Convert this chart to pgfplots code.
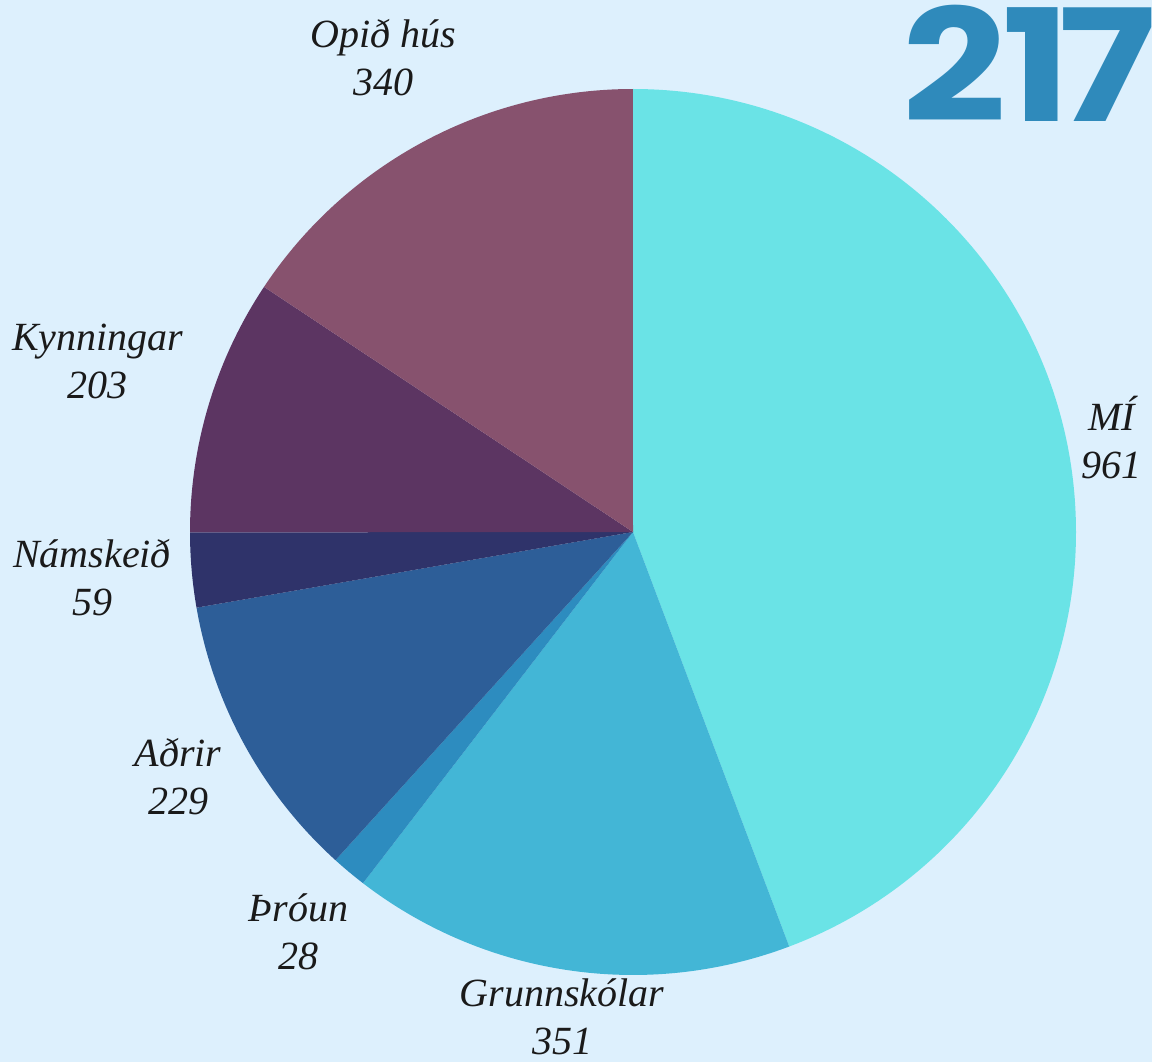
\documentclass[border=0pt]{standalone}
\usepackage{pgfplots}
\pgfplotsset{compat=1.18}
\usepackage{fontspec}
\setmainfont{Liberation Serif}
\newfontfamily\bignum{Poppins}[UprightFont=* Bold]
\definecolor{bg}{HTML}{DDF0FD}
\definecolor{cMI}{HTML}{6AE3E6}
\definecolor{cGr}{HTML}{43B6D6}
\definecolor{cTh}{HTML}{2D8CBF}
\definecolor{cAd}{HTML}{2D5E98}
\definecolor{cNa}{HTML}{2F336A}
\definecolor{cKy}{HTML}{5C3562}
\definecolor{cOp}{HTML}{87526E}
\definecolor{cBig}{HTML}{2F8ABB}
\definecolor{txt}{HTML}{1A1A1A}
% data
\def\vA{961}\def\vB{351}\def\vC{28}\def\vD{229}\def\vE{59}\def\vF{203}\def\vG{340}
\pgfmathsetmacro{\tot}{\vA+\vB+\vC+\vD+\vE+\vF+\vG}
\pgfmathsetmacro{\aA}{90}
\pgfmathsetmacro{\aB}{\aA-\vA/\tot*360}
\pgfmathsetmacro{\aC}{\aB-\vB/\tot*360}
\pgfmathsetmacro{\aD}{\aC-\vC/\tot*360}
\pgfmathsetmacro{\aE}{\aD-\vD/\tot*360}
\pgfmathsetmacro{\aF}{\aE-\vE/\tot*360}
\pgfmathsetmacro{\aG}{\aF-\vF/\tot*360}
\pgfmathsetmacro{\aH}{\aG-\vG/\tot*360}
\def\R{221.5pt}
\newcommand{\slice}[3]{\fill[#3] (axis cs:0,0) -- (axis cs:{cos(#1)},{sin(#1)}) arc[start angle=#1, end angle=#2, radius=\R] -- cycle;}
\begin{document}
\begin{tikzpicture}
\fill[bg] (0,0) rectangle (576pt,531pt);
\begin{scope}
\clip (0,0) rectangle (576pt,531pt);
\tikzset{big/.style={anchor=base west, inner sep=0pt, text=cBig, font=\bignum\fontsize{78}{78}\selectfont, xscale=1.17}}
\node[big] at (451pt,470pt) {2};
\node[big] at (501pt,470pt) {1};
\node[big] at (529pt,470pt) {7};
\end{scope}
\begin{axis}[
  at={(316.5pt,265pt)}, anchor=center,
  scale only axis, width=443pt, height=443pt,
  xmin=-1, xmax=1, ymin=-1, ymax=1,
  hide axis, clip=false,
]
\slice{\aA}{\aB}{cMI}
\slice{\aB}{\aC}{cGr}
\slice{\aC}{\aD}{cTh}
\slice{\aD}{\aE}{cAd}
\slice{\aE}{\aF}{cNa}
\slice{\aF}{\aG}{cKy}
\slice{\aG}{\aH}{cOp}
\tikzset{lab/.style={align=center, text=txt, font=\itshape\fontsize{20}{24}\selectfont, inner sep=0pt}}
\node[lab] at (axis cs:1.081,0.214) {MÍ\\961};
\node[lab] at (axis cs:-0.160,-1.094) {Grunnskólar\\351};
\node[lab] at (axis cs:-0.756,-0.903) {Þróun\\28};
\node[lab] at (axis cs:-1.027,-0.553) {Aðrir\\229};
\node[lab] at (axis cs:-1.221,-0.102) {Námskeið\\59};
\node[lab] at (axis cs:-1.208,0.384) {Kynningar\\203};
\node[lab] at (axis cs:-0.564,1.072) {Opið hús\\340};
\end{axis}
\pgfresetboundingbox
\useasboundingbox (0,0) rectangle (576pt,531pt);
\end{tikzpicture}
\end{document}
